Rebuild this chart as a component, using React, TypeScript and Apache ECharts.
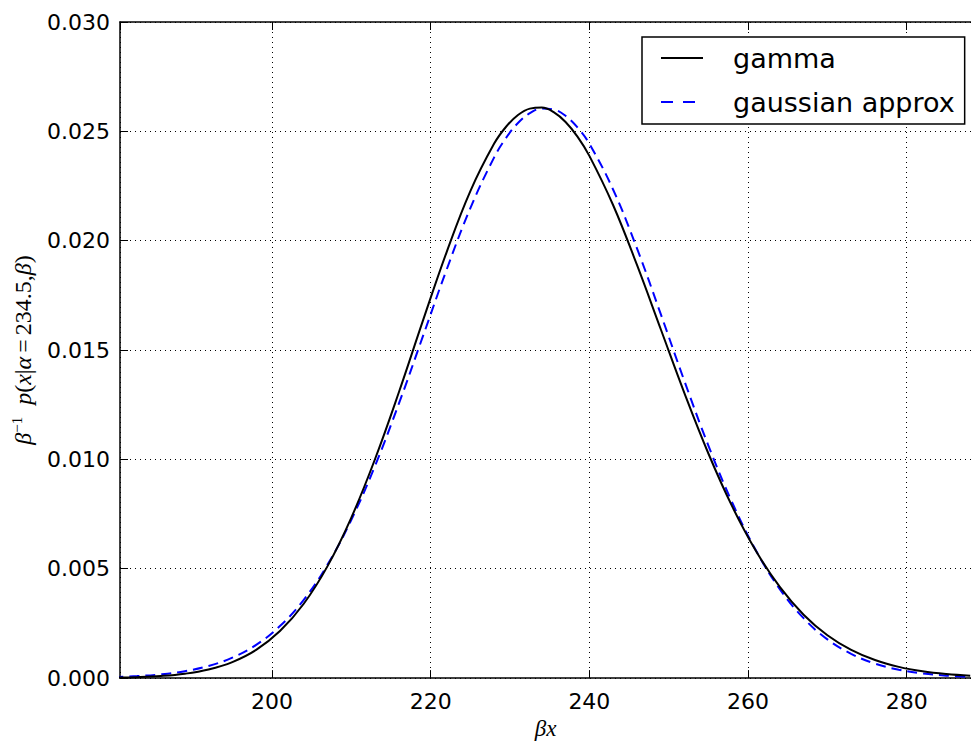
import React, { useEffect, useRef } from "react";
import * as echarts from "echarts";

// x positions (βx) where values were read
const xs = [180, 183, 186, 189, 192, 195, 198, 201, 204, 207, 210, 213, 216, 219, 222, 225, 228, 229.5, 231, 232.5, 234, 235.5, 237, 238.5, 240, 243, 246, 249, 252, 255, 258, 261, 264, 267, 270, 273, 276, 279, 282, 285, 288];
// gamma density values
const gammaVals = [0.0000183, 0.0000432, 0.0000959, 0.000200, 0.000394, 0.000733, 0.00129, 0.00215, 0.00340, 0.00512, 0.00734, 0.01003, 0.01308, 0.01632, 0.01947, 0.02227, 0.02444, 0.02521, 0.02575, 0.02604, 0.02609, 0.02588, 0.02543, 0.02476, 0.02388, 0.02162, 0.01889, 0.01595, 0.01301, 0.01027, 0.00785, 0.00581, 0.00417, 0.00290, 0.00196, 0.00129, 0.000825, 0.000513, 0.000310, 0.000183, 0.000105];
// gaussian approximation values
const gaussVals = [0.0000463, 0.0000912, 0.000173, 0.000315, 0.000554, 0.000936, 0.00152, 0.00238, 0.00358, 0.00519, 0.00724, 0.00972, 0.01256, 0.01561, 0.01867, 0.02149, 0.02381, 0.02470, 0.02538, 0.02583, 0.02604, 0.02600, 0.02571, 0.02518, 0.02443, 0.02233, 0.01965, 0.01664, 0.01356, 0.01063, 0.00803, 0.00583, 0.00407, 0.00274, 0.00177, 0.00111, 0.000662, 0.000382, 0.000212, 0.000113, 0.0000583];
const seriesNames = ["gamma", "gaussian approx"];
const xMin = 180.84;
const xMax = 288.1;
const yMin = 0;
const yMax = 0.03;
const yStep = 0.005;

export default function App() {
  const ref = useRef<HTMLDivElement>(null);
  useEffect(() => {
    if (!ref.current) return;
    const chart = echarts.init(ref.current, undefined, { renderer: "svg" });
    const sans = "DejaVu Sans";
    const serif = "Liberation Serif";
    const axisLineStyle = { color: "#000", width: 1.5 };
    const tick = { show: true, inside: true, length: 8, lineStyle: { color: "#000", width: 1 } };
    const option: any = {
      animation: false,
      backgroundColor: "#fff",
      grid: { left: 120, right: -11, top: 22, bottom: 56, containLabel: false },
      legend: {
        orient: "vertical",
        left: 642,
        top: 37,
        padding: [5, 10, 6, 18],
        itemGap: 12,
        itemWidth: 42,
        itemHeight: 20,
        backgroundColor: "#fff",
        borderColor: "#000",
        borderWidth: 1.5,
        borderRadius: 0,
        itemStyle: { opacity: 0 },
        data: [
          { name: seriesNames[0] },
          { name: seriesNames[1], lineStyle: { type: [12, 10] } },
        ],
        textStyle: { fontFamily: sans, fontSize: 27, color: "#000", lineHeight: 32, padding: [0, 0, 0, 25] },
      },
      xAxis: [
        {
          type: "value",
          min: xMin,
          max: xMax,
          position: "bottom",
          name: "βx",
          nameLocation: "middle",
          nameGap: 34,
          nameTextStyle: { fontFamily: serif, fontStyle: "italic", fontSize: 23, color: "#000" },
          axisLine: { show: true, lineStyle: axisLineStyle },
          axisTick: tick,
          axisLabel: { fontFamily: sans, fontSize: 22, color: "#000", margin: 12, showMinLabel: false, showMaxLabel: false },
          splitLine: { show: true, lineStyle: { color: "#000", width: 1, type: [1, 4] } },
        },
        {
          type: "value",
          min: xMin,
          max: xMax,
          position: "top",
          axisLine: { show: true, lineStyle: axisLineStyle },
          axisTick: tick,
          axisLabel: { show: false },
          splitLine: { show: false },
        },
      ],
      yAxis: [
        {
          type: "value",
          min: yMin,
          max: yMax,
          interval: yStep,
          position: "left",
          name: "{i|β}{s|−1}{g| }{i|p}{n|(}{i|x}{n||}{i|α}{eq|=}{n|234.5,}{i|β}{n|)}",
          nameLocation: "middle",
          nameGap: 84,
          nameRotate: 90,
          nameTextStyle: {
            color: "#000",
            rich: {
              i: { fontFamily: serif, fontStyle: "italic", fontSize: 24, color: "#000" },
              n: { fontFamily: serif, fontSize: 24, color: "#000" },
              eq: { fontFamily: serif, fontSize: 24, color: "#000", padding: [0, 4, 0, 4] },
              g: { fontSize: 24, width: 12 },
              s: { fontFamily: serif, fontSize: 15, color: "#000", verticalAlign: "top", padding: [0, 0, 12, 0] },
            },
          },
          axisLine: { show: true, lineStyle: axisLineStyle },
          axisTick: tick,
          axisLabel: {
            fontFamily: sans,
            fontSize: 22,
            color: "#000",
            margin: 10,
            formatter: (v: number) => v.toFixed(3),
          },
          splitLine: { show: true, lineStyle: { color: "#000", width: 1, type: [1, 4] } },
        },
      ],
      series: [
        {
          name: seriesNames[0],
          type: "line",
          data: xs.map((x, i) => [x, gammaVals[i]]),
          smooth: 0.4,
          symbol: "none",
          clip: true,
          itemStyle: { color: "#000" },
          lineStyle: { color: "#000", width: 2 },
          z: 3,
        },
        {
          name: seriesNames[1],
          type: "line",
          data: xs.map((x, i) => [x, gaussVals[i]]),
          smooth: 0.4,
          symbol: "none",
          clip: true,
          itemStyle: { color: "#0000ff" },
          lineStyle: { color: "#0000ff", width: 2, type: [10, 6] },
          z: 2,
        },
      ],
    };
    chart.setOption(option);
    return () => chart.dispose();
  }, []);
  return <div ref={ref} style={{ position: "absolute", left: 0, top: 0, width: 971, height: 745, background: "#fff" }} />;
}
